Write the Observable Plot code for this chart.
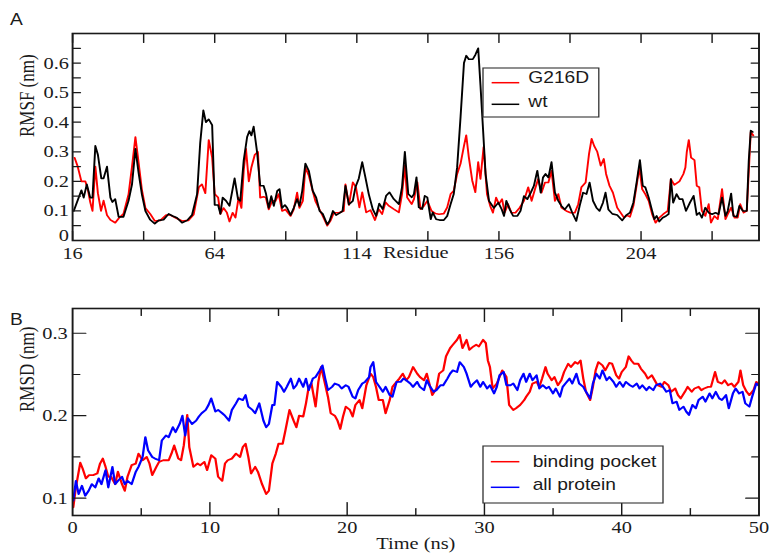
<!DOCTYPE html>
<html><head><meta charset="utf-8">
<script src="https://cdn.jsdelivr.net/npm/d3@7"></script>
<script src="https://cdn.jsdelivr.net/npm/@observablehq/plot@0.6"></script>
<style>
html,body{margin:0;padding:0;background:#fff;width:769px;height:559px;overflow:hidden}
#stage{position:absolute;left:0;top:0;width:641px;height:559px;transform:scaleX(1.2);transform-origin:0 0}
.panel{position:absolute;left:0}
.overlay{position:absolute;left:0;top:0}
</style>
</head><body>
<div id="stage"></div>
<script>
// ---------- Panel A: RMSF per residue (x = residue position index) ----------
const residueTickPos = [0, 50, 100, 150, 200];
const residueTickLabels = ["16", "64", "114", "156", "204"];
const residueMinorPos = [25, 75, 125, 175, 225];

const wtIdx = [0.4,3.1,3.9,5,6.2,7,8,8.9,10.1,10.9,12.1,13.3,14,15,16.2,17.9,19.7,20.9,22.1,23.2,24.4,25.6,27.3,28.9,30.3,32,33.8,35.2,36.7,38.5,40.3,42,43.8,44.9,46,46.9,47.9,49.1,50,51.2,52,52.8,54,55.2,57,58.2,59,60.2,61.4,62.2,62.9,63.7,64.9,66,67.2,68,69,69.9,70.8,72,72.8,73.7,74.7,75.5,76.7,77.8,79,79.8,80.8,81.9,83.1,84.5,85.7,86.9,88,89.6,90.4,91.6,92.7,94.2,95,96,97.2,98.6,99.5,100.7,101.9,103,104.2,105.6,106.8,107.9,109.1,110.3,111.5,113,114.8,115.9,116.9,118.1,119.3,120.1,121,121.8,123,123.9,124.8,126,126.7,127.9,129.1,130.6,131.8,133,134.1,135.3,136.5,137.7,138.5,139.4,140.8,141.7,142.7,143.5,144.5,145.3,146.5,148.2,149.8,151,151.8,152.6,153.8,155,156.5,157.6,158.8,160,161.2,162.3,163.5,164.7,165.5,166.4,167.4,168.5,169.7,170.9,172,173.2,174.6,175.8,177.2,178.4,179.6,180.8,181.9,183.1,184.3,185.4,186.6,187.5,188.5,189.9,191.6,193.4,194.7,196.1,197.3,198.5,199.6,200.6,201.5,202.7,203.9,204.7,205.5,206.4,207.6,208.8,209.7,210.5,211.3,212.5,213.5,214.6,215.8,217.2,218.5,219.6,220.5,221.4,222.6,223.8,225,226.2,227.3,228.5,229.7,230.5,231.7,232.5,233.7,234.6,235.8,237.2,237.9,238.6,239.3];
const wtRmsf = [0.10,0.17,0.145,0.19,0.145,0.145,0.32,0.29,0.21,0.21,0.25,0.145,0.13,0.14,0.08,0.08,0.135,0.19,0.31,0.23,0.155,0.10,0.07,0.057,0.068,0.07,0.09,0.083,0.077,0.06,0.068,0.086,0.157,0.33,0.44,0.40,0.41,0.39,0.12,0.12,0.09,0.145,0.134,0.117,0.21,0.14,0.134,0.27,0.35,0.37,0.355,0.385,0.30,0.185,0.185,0.16,0.11,0.15,0.117,0.168,0.174,0.11,0.12,0.11,0.086,0.11,0.14,0.117,0.168,0.26,0.236,0.168,0.145,0.10,0.09,0.054,0.066,0.10,0.086,0.094,0.10,0.185,0.122,0.134,0.18,0.21,0.265,0.214,0.157,0.106,0.083,0.125,0.106,0.151,0.163,0.14,0.123,0.18,0.30,0.157,0.146,0.157,0.214,0.112,0.106,0.151,0.146,0.072,0.095,0.072,0.069,0.069,0.083,0.123,0.157,0.248,0.418,0.60,0.625,0.613,0.613,0.628,0.65,0.526,0.36,0.225,0.134,0.11,0.128,0.105,0.083,0.134,0.105,0.083,0.083,0.10,0.15,0.14,0.162,0.185,0.236,0.162,0.213,0.225,0.213,0.265,0.162,0.134,0.117,0.105,0.123,0.094,0.066,0.117,0.162,0.157,0.196,0.134,0.111,0.10,0.128,0.162,0.105,0.09,0.086,0.068,0.085,0.094,0.128,0.20,0.272,0.185,0.18,0.145,0.10,0.072,0.083,0.064,0.077,0.083,0.089,0.208,0.128,0.157,0.14,0.14,0.10,0.128,0.151,0.086,0.094,0.077,0.111,0.094,0.089,0.094,0.089,0.145,0.083,0.10,0.159,0.083,0.08,0.117,0.10,0.10,0.27,0.372,0.367];

const mutIdx = [0.7,1.8,3.1,4.5,5.4,6.2,7,8,8.9,10,10.9,12.1,13.3,15,16.4,17.9,19.7,20.9,22.1,23.2,24.4,25.6,27.3,28.9,30.9,32.9,34.4,36.2,38.5,40.8,42.6,44.4,45.5,46.7,47.9,49.1,50,51.2,52,53.1,54.3,55.2,56.3,57.3,58.4,59.4,60.2,61,62,62.9,64.1,65.2,66,67.2,68,69,70.2,71.4,72.5,73.7,74.9,76.7,77.8,79,79.8,81,81.9,83.1,84.3,85.4,86.6,88,89.6,90.7,91.9,93.7,95.4,96,97.2,98.6,99.7,100.9,101.9,103.3,104.8,106.4,107.7,108.9,110.1,111.3,113,114.8,115.9,116.9,117.7,119.3,120.1,121.3,122.4,123.6,124.8,126.3,127.7,128.9,130.6,131.8,133,134.1,135.3,136.5,137.7,138.5,139.4,140.6,141.7,142.7,143.5,144.6,145.8,147,147.9,149,150,151.1,152,153.2,154.4,155.8,157.3,158.8,160.3,161.5,162.7,163.8,165,166.2,167.4,168.5,169.7,170.9,172,173.7,175.2,176.7,177.9,179,180.5,181.7,182.6,183.5,184.6,185.8,186.9,187.7,188.9,190.1,191.6,192.8,194,195.1,196.1,197.3,198.5,199.4,200.4,201.5,202.7,203.9,205.1,206.4,207.8,209.4,210.5,211.7,213.5,214.9,215.6,216.1,216.8,217.6,218.8,219.6,220.5,221.4,222.6,223.8,224.6,225.8,227,228.5,229.7,230.5,231.7,232.9,234,234.9,236.1,237.2,238.6,239.5];
const mutRmsf = [0.28,0.25,0.20,0.20,0.17,0.13,0.10,0.25,0.16,0.10,0.135,0.086,0.07,0.06,0.077,0.09,0.157,0.25,0.35,0.265,0.17,0.11,0.09,0.066,0.068,0.086,0.086,0.077,0.066,0.068,0.088,0.18,0.19,0.16,0.34,0.28,0.157,0.145,0.09,0.11,0.094,0.064,0.094,0.077,0.145,0.11,0.236,0.31,0.20,0.247,0.29,0.30,0.145,0.148,0.145,0.105,0.134,0.134,0.157,0.10,0.105,0.083,0.105,0.162,0.11,0.134,0.247,0.22,0.174,0.134,0.11,0.083,0.05,0.066,0.094,0.094,0.10,0.19,0.12,0.197,0.18,0.112,0.163,0.095,0.103,0.069,0.106,0.089,0.129,0.117,0.106,0.095,0.157,0.254,0.146,0.123,0.14,0.197,0.106,0.117,0.134,0.10,0.091,0.089,0.091,0.112,0.157,0.168,0.225,0.26,0.32,0.356,0.282,0.203,0.163,0.265,0.208,0.316,0.157,0.115,0.094,0.145,0.123,0.14,0.094,0.123,0.094,0.094,0.111,0.134,0.18,0.134,0.174,0.208,0.162,0.196,0.196,0.236,0.134,0.157,0.111,0.10,0.094,0.094,0.123,0.18,0.196,0.293,0.344,0.32,0.30,0.253,0.276,0.225,0.185,0.162,0.111,0.094,0.077,0.085,0.08,0.117,0.19,0.247,0.174,0.157,0.134,0.089,0.06,0.077,0.089,0.10,0.208,0.188,0.20,0.225,0.247,0.30,0.34,0.28,0.272,0.185,0.18,0.10,0.083,0.123,0.06,0.083,0.072,0.174,0.072,0.089,0.111,0.077,0.077,0.123,0.094,0.10,0.367,0.355];

const rmsfTicksMajor = [0, 0.1, 0.2, 0.3, 0.4, 0.5, 0.6];
const rmsfTicksAll = [0.05,0.1,0.15,0.2,0.25,0.3,0.35,0.4,0.45,0.5,0.55,0.6,0.65];
const seriesA = ["G216D", "wt"];

// ---------- Panel B: RMSD vs time ----------
const timeTicksMajor = [0, 10, 20, 30, 40, 50];
const timeTicksMinor = [5, 15, 25, 35, 45];
const rmsdTicksMajor = [0.1, 0.2, 0.3];
const rmsdTicksMinor = [0.15, 0.25];
const seriesB = ["binding pocket", "all protein"];

const pocketT = [0.05,0.24,0.56,0.73,0.97,1.2,1.5,1.8,2.0,2.2,2.4,2.6,2.8,3.1,3.3,3.6,3.8,4.0,4.3,4.6,4.8,5.1,5.4,5.6,5.8,6.1,6.3,6.6,7.0,7.2,7.4,7.7,7.9,8.1,8.35,8.5,8.8,9.1,9.3,9.6,9.8,10.1,10.4,10.6,10.9,11.1,11.3,11.6,11.9,12.2,12.4,12.6,12.8,13.0,13.3,13.5,13.8,14.1,14.3,14.55,14.8,15.0,15.3,15.5,15.8,16.1,16.3,16.5,16.8,17.0,17.2,17.4,17.7,17.9,18.1,18.3,18.6,18.8,19.1,19.3,19.5,19.7,19.9,20.2,20.4,20.6,20.9,21.1,21.4,21.7,21.9,22.1,22.3,22.6,22.8,23.1,23.3,23.6,23.8,24.05,24.3,24.5,24.8,25.1,25.3,25.6,25.8,26.05,26.2,26.5,26.7,27.0,27.2,27.5,27.7,28.0,28.2,28.4,28.7,28.9,29.2,29.4,29.6,29.9,30.1,30.25,30.4,30.6,30.9,31.1,31.3,31.6,31.8,32.1,32.3,32.6,32.9,33.04,33.3,33.5,33.8,34.0,34.2,34.45,34.6,34.9,35.1,35.35,35.6,35.8,36.1,36.3,36.6,36.8,37.0,37.2,37.4,37.7,37.9,38.1,38.3,38.6,38.8,39.1,39.3,39.6,39.8,40.0,40.3,40.5,40.7,40.9,41.2,41.4,41.7,41.9,42.2,42.4,42.6,42.9,43.1,43.4,43.6,43.9,44.1,44.3,44.6,44.8,45.1,45.3,45.6,45.8,46.0,46.3,46.5,46.8,47.0,47.3,47.5,47.75,48.0,48.2,48.5,48.65,48.85,49.1,49.3,49.6,49.8,49.95];
const pocketRmsd = [0.089,0.113,0.143,0.136,0.124,0.128,0.128,0.13,0.142,0.148,0.138,0.126,0.126,0.117,0.132,0.117,0.109,0.126,0.14,0.142,0.154,0.146,0.15,0.142,0.128,0.138,0.144,0.146,0.146,0.154,0.164,0.148,0.146,0.164,0.201,0.162,0.138,0.142,0.14,0.144,0.134,0.152,0.148,0.126,0.121,0.142,0.146,0.148,0.154,0.15,0.162,0.166,0.15,0.13,0.138,0.132,0.117,0.105,0.109,0.142,0.154,0.166,0.166,0.182,0.207,0.194,0.186,0.2,0.199,0.215,0.235,0.239,0.211,0.241,0.259,0.245,0.223,0.203,0.2,0.194,0.184,0.199,0.211,0.207,0.199,0.213,0.219,0.209,0.237,0.251,0.247,0.235,0.219,0.219,0.203,0.219,0.235,0.241,0.245,0.251,0.243,0.247,0.259,0.251,0.247,0.243,0.251,0.235,0.225,0.233,0.251,0.255,0.272,0.282,0.286,0.292,0.298,0.282,0.292,0.28,0.284,0.286,0.284,0.292,0.288,0.267,0.259,0.233,0.239,0.247,0.255,0.247,0.213,0.207,0.209,0.213,0.219,0.223,0.229,0.239,0.241,0.235,0.245,0.259,0.251,0.243,0.247,0.237,0.243,0.253,0.263,0.259,0.265,0.263,0.267,0.245,0.229,0.219,0.235,0.255,0.265,0.261,0.255,0.264,0.263,0.249,0.245,0.253,0.259,0.272,0.267,0.263,0.263,0.257,0.251,0.245,0.249,0.243,0.237,0.235,0.241,0.237,0.229,0.233,0.225,0.221,0.229,0.235,0.229,0.233,0.235,0.231,0.233,0.235,0.235,0.253,0.241,0.239,0.243,0.237,0.239,0.235,0.241,0.255,0.237,0.229,0.225,0.231,0.241,0.239];

const proteinT = [0.05,0.24,0.44,0.68,0.92,1.17,1.4,1.65,1.9,2.1,2.4,2.6,2.9,3.1,3.3,3.6,3.8,4.0,4.3,4.6,4.8,5.1,5.3,5.5,5.8,6.0,6.3,6.5,6.8,7.0,7.3,7.5,7.8,8.0,8.2,8.4,8.7,9.0,9.2,9.4,9.7,9.9,10.1,10.4,10.6,10.9,11.1,11.4,11.6,11.9,12.1,12.4,12.6,12.8,13.1,13.3,13.6,13.9,14.1,14.3,14.55,14.7,14.9,15.2,15.4,15.6,15.9,16.1,16.3,16.5,16.8,17.0,17.2,17.5,17.7,18.0,18.2,18.4,18.6,18.9,19.1,19.4,19.6,19.9,20.1,20.4,20.6,20.8,21.1,21.3,21.6,21.7,21.9,22.1,22.35,22.6,22.8,23.1,23.3,23.6,23.9,24.1,24.3,24.6,24.8,25.1,25.3,25.6,25.8,26.05,26.3,26.5,26.8,27.0,27.3,27.5,27.7,28.0,28.2,28.5,28.7,29.0,29.2,29.45,29.7,29.9,30.2,30.4,30.7,30.9,31.1,31.4,31.6,31.9,32.1,32.4,32.6,32.85,33.04,33.3,33.5,33.8,34.0,34.25,34.5,34.7,35.0,35.2,35.5,35.7,35.9,36.2,36.4,36.7,36.9,37.2,37.4,37.7,37.9,38.15,38.4,38.6,38.9,39.1,39.4,39.6,39.85,40.1,40.3,40.6,40.8,41.1,41.3,41.5,41.8,42.0,42.3,42.5,42.8,43.0,43.25,43.5,43.7,44.0,44.2,44.5,44.7,44.9,45.15,45.4,45.6,45.9,46.1,46.4,46.6,46.85,47.1,47.3,47.6,47.8,48.1,48.3,48.55,48.8,49.0,49.3,49.5,49.8,49.95];
const proteinRmsd = [0.097,0.121,0.105,0.115,0.103,0.109,0.117,0.113,0.124,0.117,0.134,0.113,0.138,0.117,0.121,0.126,0.117,0.121,0.117,0.132,0.138,0.15,0.174,0.158,0.15,0.148,0.146,0.17,0.176,0.174,0.186,0.18,0.19,0.2,0.176,0.197,0.19,0.194,0.199,0.203,0.207,0.213,0.221,0.205,0.207,0.203,0.2,0.194,0.207,0.215,0.221,0.219,0.225,0.211,0.207,0.203,0.215,0.194,0.186,0.19,0.213,0.213,0.241,0.235,0.229,0.235,0.245,0.233,0.237,0.245,0.235,0.245,0.231,0.245,0.247,0.255,0.261,0.245,0.231,0.235,0.239,0.237,0.233,0.237,0.235,0.223,0.221,0.231,0.239,0.241,0.247,0.259,0.265,0.241,0.235,0.229,0.235,0.225,0.223,0.241,0.241,0.245,0.243,0.239,0.235,0.241,0.235,0.231,0.243,0.235,0.229,0.231,0.237,0.237,0.245,0.251,0.255,0.253,0.265,0.259,0.251,0.235,0.239,0.243,0.235,0.241,0.233,0.237,0.227,0.235,0.249,0.253,0.237,0.237,0.239,0.231,0.243,0.251,0.241,0.251,0.243,0.249,0.233,0.237,0.233,0.235,0.227,0.233,0.223,0.235,0.239,0.245,0.239,0.251,0.239,0.235,0.229,0.221,0.239,0.251,0.245,0.255,0.243,0.247,0.241,0.235,0.241,0.235,0.241,0.237,0.235,0.239,0.233,0.237,0.231,0.235,0.231,0.237,0.239,0.235,0.229,0.231,0.215,0.217,0.207,0.211,0.205,0.201,0.213,0.209,0.219,0.223,0.217,0.227,0.221,0.229,0.221,0.219,0.225,0.209,0.227,0.233,0.227,0.229,0.215,0.211,0.223,0.239,0.237];

// ---------- drawing ----------
const SERIF = '"Liberation Serif", "Times New Roman", serif';
const SANS = '"Liberation Sans", Arial, sans-serif';
const RED = "#ff0000", BLUE = "#0000ff", BLACK = "#000000", INK = "#1a1a1a";
const fmt1 = d => d === 0 ? "0" : d.toFixed(1);
const stage = document.getElementById("stage");

// plain inward tick shape for vector marks
const tickShape = {draw(ctx, l) { ctx.moveTo(0, 0); ctx.lineTo(0, -l); }};
function innerTicks(xs, ys, lenX, lenY) {
  const o = {stroke: INK, strokeWidth: 1.2, shape: tickShape, anchor: "start"};
  const m = [];
  if (xs) {
    m.push(Plot.vector(xs, {...o, x: d => d, frameAnchor: "bottom", rotate: 0, length: lenX}));
    m.push(Plot.vector(xs, {...o, x: d => d, frameAnchor: "top", rotate: 180, length: lenX}));
  }
  if (ys) {
    m.push(Plot.vector(ys, {...o, y: d => d, frameAnchor: "left", rotate: 90, length: lenY}));
    m.push(Plot.vector(ys, {...o, y: d => d, frameAnchor: "right", rotate: -90, length: lenY}));
  }
  return m;
}

const wt = wtIdx.map((x, i) => ({x, y: wtRmsf[i]}));
const mut = mutIdx.map((x, i) => ({x, y: mutRmsf[i]}));

const plotA = Plot.plot({
  width: 641, height: 270,
  marginLeft: 60, marginRight: 9, marginTop: 33, marginBottom: 30,
  x: {domain: [0, 241.5]},
  y: {domain: [0, 0.7]},
  style: {fontFamily: SERIF, fontSize: "17px", color: INK, background: "transparent", overflow: "visible"},
  marks: [
    Plot.line(mut, {x: "x", y: "y", stroke: RED, strokeWidth: 1.6}),
    Plot.line(wt, {x: "x", y: "y", stroke: BLACK, strokeWidth: 1.6}),
    Plot.frame({stroke: INK, strokeWidth: 1.6}),
    ...innerTicks(residueTickPos.concat(residueMinorPos), rmsfTicksAll, 9, 6.5),
    Plot.axisX(residueTickPos, {anchor: "bottom", tickSize: 0, tickPadding: 6, label: null, tickFormat: d => residueTickLabels[residueTickPos.indexOf(d)]}),
    Plot.axisY(rmsfTicksMajor.slice(1), {anchor: "left", tickSize: 0, tickPadding: 3, label: null, tickFormat: fmt1}),
    Plot.axisY([0], {anchor: "left", tickSize: 0, tickPadding: 3, label: null, tickFormat: fmt1, dy: -5}),
    Plot.text(["RMSF (nm)"], {frameAnchor: "left", dx: -37.5, rotate: -90, fontSize: 17}),
    Plot.text(["Residue"], {frameAnchor: "bottom", dy: 17, fontSize: 17})
  ]
});
plotA.classList.add("panel");
plotA.style.top = "0px";
stage.appendChild(plotA);

const pocket = pocketT.map((x, i) => ({x, y: pocketRmsd[i]}));
const protein = proteinT.map((x, i) => ({x, y: proteinRmsd[i]}));

const plotB = Plot.plot({
  width: 641, height: 279,
  marginLeft: 60, marginRight: 9, marginTop: 28, marginBottom: 44,
  x: {domain: [0, 50]},
  y: {domain: [0.079, 0.33]},
  style: {fontFamily: SERIF, fontSize: "17px", color: INK, background: "transparent", overflow: "visible"},
  marks: [
    Plot.line(pocket, {x: "x", y: "y", stroke: RED, strokeWidth: 1.9}),
    Plot.line(protein, {x: "x", y: "y", stroke: BLUE, strokeWidth: 1.9}),
    Plot.frame({stroke: INK, strokeWidth: 1.6}),
    ...innerTicks(timeTicksMajor.slice(1, -1), rmsdTicksMajor, 13, 11),
    ...innerTicks(timeTicksMinor, rmsdTicksMinor, 7, 6),
    Plot.axisX(timeTicksMajor, {anchor: "bottom", tickSize: 0, tickPadding: 5, label: null, tickFormat: d => String(d)}),
    Plot.axisY(rmsdTicksMajor, {anchor: "left", tickSize: 0, tickPadding: 4, label: null, tickFormat: fmt1}),
    Plot.text(["RMSD (nm)"], {frameAnchor: "left", dx: -38, rotate: -90, fontSize: 17}),
    Plot.text(["Time (ns)"], {frameAnchor: "bottom", dy: 33, fontSize: 17})
  ]
});
plotB.classList.add("panel");
plotB.style.top = "280px";
stage.appendChild(plotB);

// ---------- overlay: panel letters and legends ----------
const ov = d3.create("svg").attr("class", "overlay").attr("width", 641).attr("height", 559)
  .style("font-family", SANS).style("font-size", "16px").style("fill", INK);
ov.append("text").attr("x", 8.3).attr("y", 25).text("A");
ov.append("text").attr("x", 8.3).attr("y", 325).text("B");

function legend(x, y, w, h, names, colors, rows) {
  const g = ov.append("g");
  g.append("rect").attr("x", x).attr("y", y).attr("width", w).attr("height", h)
    .attr("fill", "#fff").attr("stroke", "#333").attr("stroke-width", 1.1);
  names.forEach((n, i) => {
    const r = rows[i];
    g.append("line").attr("x1", x + r.lx).attr("x2", x + r.lx + r.lw).attr("y1", y + r.ly).attr("y2", y + r.ly)
      .attr("stroke", colors[i]).attr("stroke-width", 1.5);
    g.append("text").attr("x", x + r.tx).attr("y", y + r.ty).text(n);
  });
}
legend(402.5, 68, 96.5, 49, seriesA, [RED, BLACK], [
  {lx: 7.2, lw: 23, ly: 14.7, tx: 37.8, ty: 15.5},
  {lx: 7.2, lw: 23, ly: 36.3, tx: 37.8, ty: 39.5}
]);
legend(402.5, 446, 150, 57, seriesB, [RED, BLUE], [
  {lx: 6.5, lw: 23.8, ly: 15.7, tx: 41.4, ty: 20.7},
  {lx: 6.5, lw: 23.8, ly: 41.3, tx: 41.4, ty: 44.5}
]);
stage.appendChild(ov.node());
</script>
</body></html>
